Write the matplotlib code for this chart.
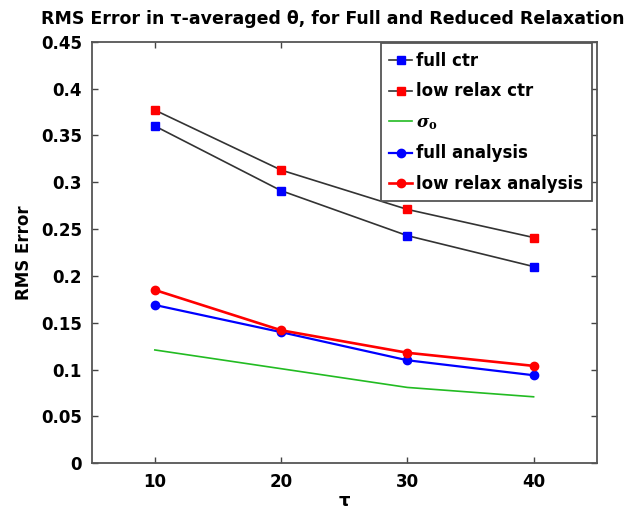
import matplotlib
matplotlib.use("Agg")
import matplotlib.pyplot as plt
import numpy as np

tau = [10, 20, 30, 40]
full_ctr = [0.360, 0.291, 0.243, 0.210]
low_relax_ctr = [0.377, 0.313, 0.271, 0.241]
sigma_o = [0.121, 0.101, 0.081, 0.071]
full_analysis = [0.169, 0.140, 0.110, 0.094]
low_relax_analysis = [0.185, 0.142, 0.118, 0.104]
yticks = [0, 0.05, 0.1, 0.15, 0.2, 0.25, 0.3, 0.35, 0.4, 0.45]
ytick_labels = ["0", "0.05", "0.1", "0.15", "0.2", "0.25", "0.3", "0.35", "0.4", "0.45"]
xticks = [10, 20, 30, 40]

plt.rcParams['font.family'] = ['DejaVu Sans']
plt.rcParams['font.weight'] = 'bold'
plt.rcParams['mathtext.fontset'] = 'dejavuserif'

fig = plt.figure(figsize=(6.33, 5.11), dpi=100)
ax = fig.add_axes([0.1449, 0.0933, 0.9427 - 0.1449, 0.9184 - 0.0933])

ax.plot(tau, full_ctr, color='#333333', lw=1.2, marker='s', ms=5.5,
        mfc='#0000ff', mec='#0000ff', label='full ctr')
ax.plot(tau, low_relax_ctr, color='#333333', lw=1.2, marker='s', ms=5.5,
        mfc='#ff0000', mec='#ff0000', label='low relax ctr')
ax.plot(tau, sigma_o, color='#22bb22', lw=1.2, label=r'$\sigma_\mathbf{o}$')
ax.plot(tau, full_analysis, color='#0000ff', lw=1.6, marker='o', ms=6,
        mfc='#0000ff', mec='#0000ff', label='full analysis')
ax.plot(tau, low_relax_analysis, color='#ff0000', lw=1.9, marker='o', ms=6,
        mfc='#ff0000', mec='#ff0000', label='low relax analysis')

ax.set_xlim(5, 45)
ax.set_ylim(0, 0.45)
ax.set_xticks(xticks)
ax.set_xticklabels([str(t) for t in xticks], fontsize=12, fontweight='bold')
ax.set_yticks(yticks)
ax.set_yticklabels(ytick_labels, fontsize=12, fontweight='bold')
ax.tick_params(direction='in', top=True, right=True, length=4, width=1, color='#444444', pad=7)
for s in ax.spines.values():
    s.set_color('#555555')
    s.set_linewidth(1.3)

ax.set_xlabel('τ', fontsize=13, fontweight='bold', labelpad=1)
ax.set_ylabel('RMS Error', fontsize=12, fontweight='bold', labelpad=6)
fig.text(0.064, 0.963, 'RMS Error in τ-averaged θ, for Full and Reduced Relaxation',
         fontsize=12.5, fontweight='bold', ha='left', va='center')

leg = ax.legend(loc='upper right', bbox_to_anchor=(0.990, 0.996),
                prop={'weight': 'bold', 'size': 12}, fancybox=False,
                edgecolor='#555555', framealpha=1, handlelength=1.4,
                handletextpad=0.25, borderpad=0.5, labelspacing=0.76,
                borderaxespad=0.0)
leg.get_frame().set_linewidth(1.3)

fig.savefig('out.png', dpi=100)
